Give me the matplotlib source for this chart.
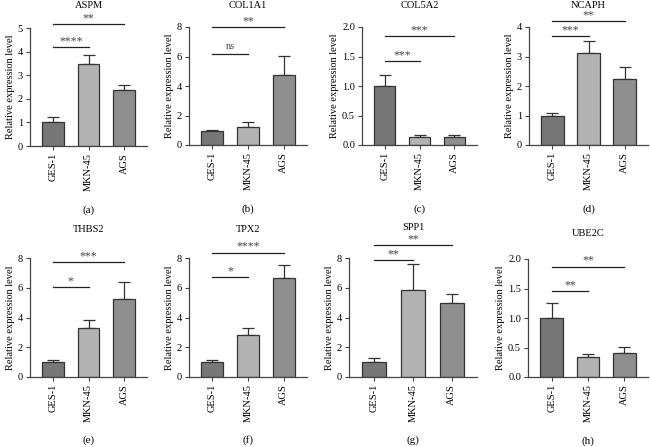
import matplotlib
matplotlib.use('Agg')
import matplotlib.pyplot as plt
import numpy as np

plt.rcParams['font.family'] = ['Liberation Serif', 'DejaVu Serif']

groups = ['GES-1', 'MKN-45', 'AGS']
genes = ['ASPM', 'COL1A1', 'COL5A2', 'NCAPH', 'THBS2', 'TPX2', 'SPP1', 'UBE2C']
panel_tags = ['(a)', '(b)', '(c)', '(d)', '(e)', '(f)', '(g)', '(h)']

# mean and upper error (SD)
means = [
    [1.00, 3.47, 2.37],
    [0.95, 1.20, 4.75],
    [1.00, 0.14, 0.13],
    [0.98, 3.12, 2.25],
    [0.98, 3.28, 5.25],
    [0.98, 2.80, 6.68],
    [0.98, 5.82, 4.97],
    [1.00, 0.34, 0.41],
]
errors = [
    [0.22, 0.40, 0.20],
    [0.05, 0.35, 1.30],
    [0.19, 0.03, 0.04],
    [0.12, 0.40, 0.38],
    [0.15, 0.55, 1.12],
    [0.15, 0.47, 0.88],
    [0.27, 1.78, 0.58],
    [0.25, 0.05, 0.10],
]
y_max = [5, 8, 2, 4, 8, 8, 8, 2]
y_step = [1, 2, 0.5, 1, 2, 2, 2, 0.5]

# significance: (label, height) for GES-1 vs MKN-45 and GES-1 vs AGS
sig_near = [('****', 4.2), ('ns', 6.2), ('***', 1.42), ('***', 3.7),
            ('*', 6.06), ('*', 6.7), ('**', 7.85), ('**', 1.46)]
sig_far = [('**', 5.17), ('**', 8.0), ('***', 1.85), ('**', 4.2),
           ('***', 7.7), ('****', 8.35), ('**', 8.86), ('**', 1.87)]

bar_colors = ['#777777', '#b3b3b3', '#8e8e8e']
edge = '#333333'

W, H = 650, 447
fig = plt.figure(figsize=(W / 100, H / 100), dpi=100)

# axes boxes in pixels: left, top, width, height
boxes = [
    (30, 28, 117, 118), (189, 27, 118, 118), (362, 27, 115, 118), (529, 27, 119, 118),
    (30, 258, 117, 119), (189, 258, 118, 119), (349, 258, 128, 119), (528, 259, 120, 118),
]
title_off = [23, 22, 22, 22, 28, 28, 30, 26]

x = np.arange(len(groups))
for i, gene in enumerate(genes):
    l, t, w, h = boxes[i]
    ax = fig.add_axes([l / W, 1 - (t + h) / H, w / W, h / H])
    ax.bar(x, means[i], width=0.62, color=bar_colors, edgecolor=edge,
           linewidth=0.9, zorder=2)
    ax.errorbar(x, means[i], yerr=[[0, 0, 0], errors[i]], fmt='none',
                ecolor=edge, elinewidth=0.9, capsize=4.5, capthick=0.9, zorder=1)
    ax.set_xlim(-0.65, 2.65)
    ax.set_ylim(0, y_max[i])
    ticks = np.arange(0, y_max[i] + y_step[i] / 2, y_step[i])
    ax.set_yticks(ticks)
    if y_step[i] < 1:
        ax.set_yticklabels(['{:.1f}'.format(v) for v in ticks])
    else:
        ax.set_yticklabels(['{:d}'.format(int(v)) for v in ticks])
    ax.set_xticks(x)
    ax.set_xticklabels(groups, rotation=90)
    ax.tick_params(labelsize=7.5, length=3, width=0.8, color='#444444', pad=2)
    for s in ['top', 'right']:
        ax.spines[s].set_visible(False)
    for s in ['left', 'bottom']:
        ax.spines[s].set_color('#444444')
        ax.spines[s].set_linewidth(0.9)
    ax.set_ylabel('Relative expression level', fontsize=7.5, labelpad=2)

    for (lab, yv), x2 in [(sig_near[i], 1), (sig_far[i], 2)]:
        ax.plot([0, x2], [yv, yv], color='#222222', lw=0.9, clip_on=False)
        ax.annotate(lab, xy=(x2 / 2, yv), xytext=(0, 2 if lab == 'ns' else 0),
                    textcoords='offset points', ha='center', va='bottom',
                    fontsize=7.5 if lab == 'ns' else 8.5, color='#444444',
                    annotation_clip=False)

    ax.annotate(gene, xy=(0.5, 1), xycoords='axes fraction',
                xytext=(0, title_off[i] * 0.72), textcoords='offset points',
                ha='center', va='center', fontsize=7.5, annotation_clip=False)
    fig.text((l + w / 2) / W, 1 - (t + 182) / H, panel_tags[i],
             ha='center', va='center', fontsize=8)

fig.savefig('out.png', dpi=100)
